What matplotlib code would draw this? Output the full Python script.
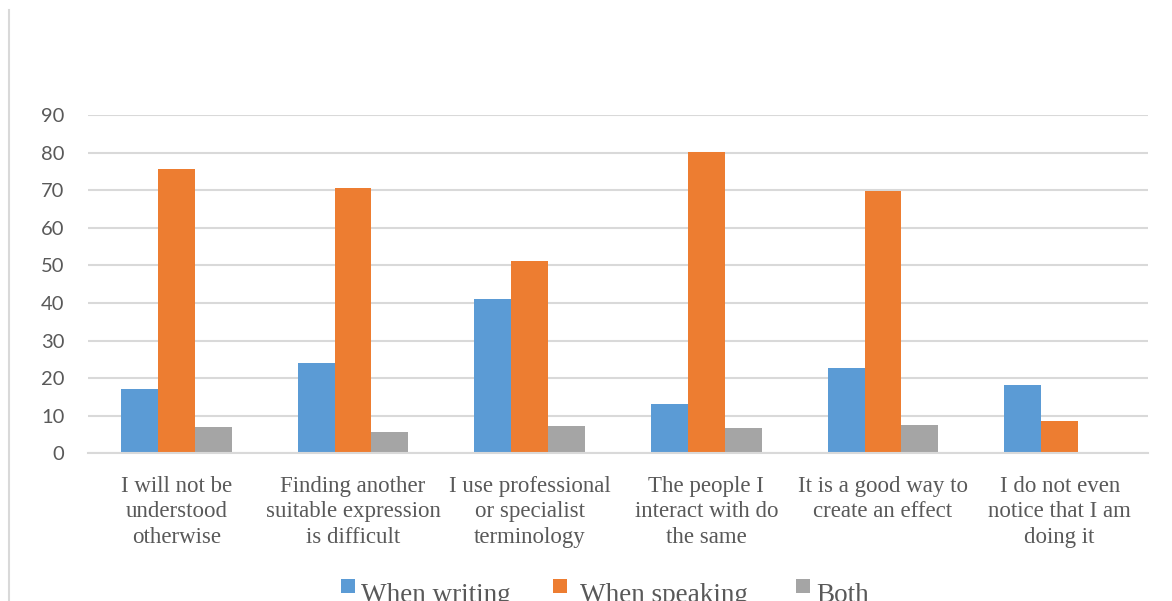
import matplotlib
matplotlib.use("Agg")
import matplotlib.pyplot as plt
from matplotlib.patches import Rectangle
from matplotlib.lines import Line2D
import numpy as np

categories = [
    "I will not be\nunderstood\notherwise",
    "Finding another\nsuitable expression\nis difficult",
    "I use professional\nor specialist\nterminology",
    "The people I\ninteract with do\nthe same",
    "It is a good way to\ncreate an effect",
    "I do not even\nnotice that I am\ndoing it",
]
series_names = ["When writing", "When speaking", "Both"]
when_writing = [17.1, 24.0, 41.1, 13.1, 22.7, 18.2]
when_speaking = [75.6, 70.6, 51.2, 80.2, 69.8, 8.6]
both = [7.0, 5.7, 7.3, 6.7, 7.5, 0]
yticks = [0, 10, 20, 30, 40, 50, 60, 70, 80, 90]

colors = ["#5B9BD5", "#ED7D31", "#A5A5A5"]
grid_color = "#D9D9D9"
tick_color = "#595959"

W, H = 1172, 601
fig = plt.figure(figsize=(W / 100, H / 100), dpi=100)
ax = fig.add_axes([88 / W, 1 - 453.3 / H, (1148 - 88) / W, (453.3 - 115) / H])

x = np.arange(len(categories))
bw = 0.2094
for k, vals in enumerate([when_writing, when_speaking, both]):
    ax.bar(x + (k - 1) * bw, vals, width=bw, color=colors[k], zorder=3,
           linewidth=0)

ax.set_xlim(-0.5, len(categories) - 0.5)
ax.set_ylim(0, 90)
ax.set_yticks(yticks)
ax.set_yticklabels([str(t) for t in yticks], fontfamily="Lato", fontsize=14.5,
                   color=tick_color)
ax.set_xticks(x)
ax.set_xticklabels(categories, fontfamily="Liberation Serif", fontsize=16.5,
                   color=tick_color, linespacing=1.29)
ax.tick_params(axis="both", length=0)
ax.tick_params(axis="y", pad=17)
ax.tick_params(axis="x", pad=16)
ax.yaxis.grid(True, color=grid_color, linewidth=1.5, zorder=0)
for s in ["top", "right", "left"]:
    ax.spines[s].set_visible(False)
ax.spines["bottom"].set_color(grid_color)
ax.spines["bottom"].set_linewidth(1.5)
ax.spines["bottom"].set_zorder(4)

# chart frame edge on the left
fig.add_artist(Line2D([8.5 / W, 8.5 / W], [0, 1 - 10 / H], color="#D9D9D9",
                      linewidth=1.5))

# legend along the bottom edge
legend_items = [(341, 361), (553, 580), (796, 816)]
for (sx, tx), name, c in zip(legend_items, series_names, colors):
    fig.add_artist(Rectangle((sx / W, 1 - 593 / H), 14 / W, 14 / H,
                             facecolor=c, edgecolor="none",
                             transform=fig.transFigure))
    fig.text(tx / W, 1 - 601.5 / H, name, fontfamily="Liberation Serif",
             fontsize=19.5, color=tick_color, ha="left", va="baseline")

fig.savefig("out.png", dpi=100, facecolor="white")
